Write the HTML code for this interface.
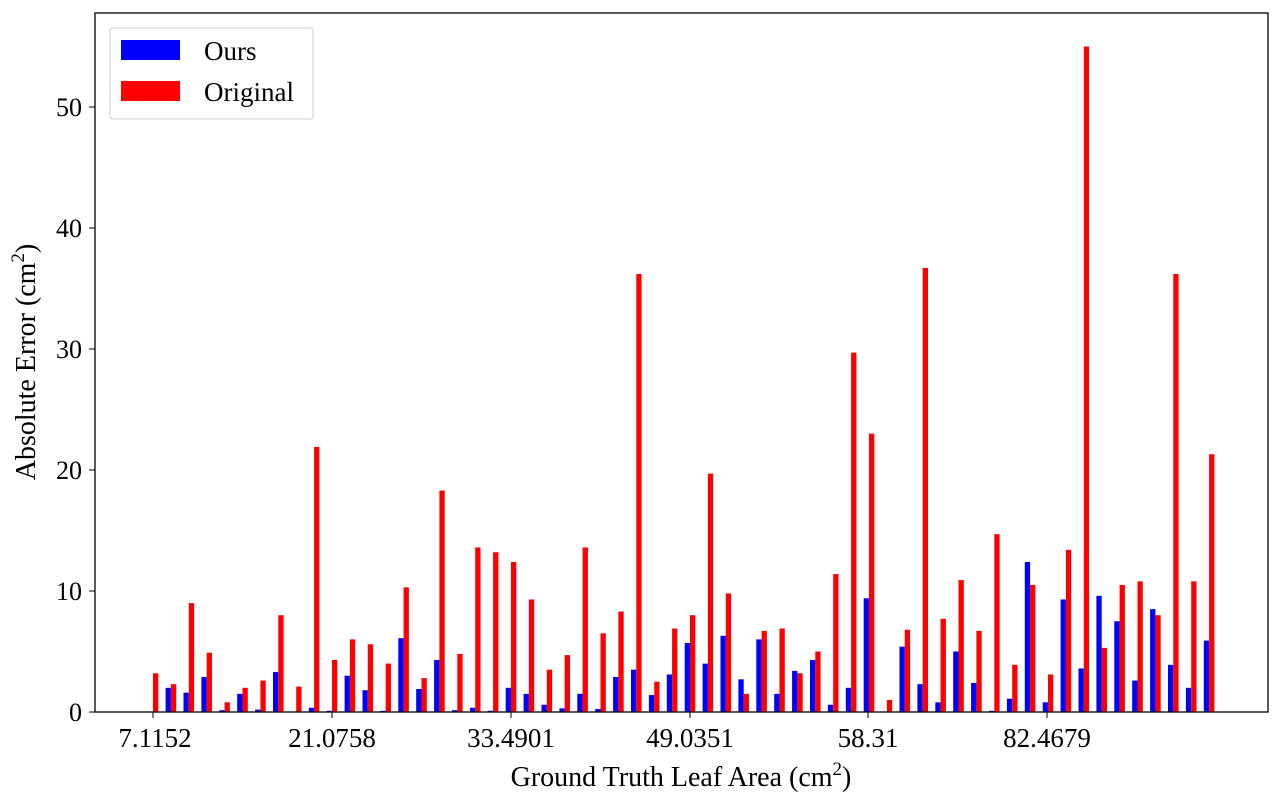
<!DOCTYPE html>
<html><head><meta charset="utf-8"><style>body{margin:0;background:#fff}svg{display:block}</style></head>
<body>
<svg id="s" width="1280" height="803" xmlns="http://www.w3.org/2000/svg" font-family="Liberation Serif, serif">
<g id="bars"></g>
<rect x="95" y="13" width="1173" height="699" fill="none" stroke="#000" stroke-width="1.3"/>
<g font-size="26" text-anchor="end" fill="#000">
<line x1="89" y1="712" x2="95" y2="712" stroke="#000"/><text x="82" y="721">0</text>
<line x1="89" y1="591" x2="95" y2="591" stroke="#000"/><text x="82" y="600">10</text>
<line x1="89" y1="470" x2="95" y2="470" stroke="#000"/><text x="82" y="479">20</text>
<line x1="89" y1="349" x2="95" y2="349" stroke="#000"/><text x="82" y="358">30</text>
<line x1="89" y1="228" x2="95" y2="228" stroke="#000"/><text x="82" y="237">40</text>
<line x1="89" y1="107" x2="95" y2="107" stroke="#000"/><text x="82" y="116">50</text>
</g>
<g font-size="27" text-anchor="middle" fill="#000">
<line x1="153" y1="712" x2="153" y2="718" stroke="#000"/><text x="155" y="747">7.1152</text>
<line x1="332" y1="712" x2="332" y2="718" stroke="#000"/><text x="332" y="747">21.0758</text>
<line x1="511" y1="712" x2="511" y2="718" stroke="#000"/><text x="511" y="747">33.4901</text>
<line x1="690" y1="712" x2="690" y2="718" stroke="#000"/><text x="690" y="747">49.0351</text>
<line x1="868" y1="712" x2="868" y2="718" stroke="#000"/><text x="868" y="747">58.31</text>
<line x1="1047" y1="712" x2="1047" y2="718" stroke="#000"/><text x="1047" y="747">82.4679</text>
</g>
<g font-size="28" text-anchor="middle" fill="#000">
<text x="681" y="786">Ground Truth Leaf Area (cm<tspan font-size="19" dy="-11">2</tspan><tspan dy="11">)</tspan></text>
<text transform="translate(35,362) rotate(-90)">Absolute Error (cm<tspan font-size="19" dy="-11">2</tspan><tspan dy="11">)</tspan></text>
</g>
<rect x="110" y="28" width="203" height="91" rx="3" fill="#fff" fill-opacity="0.8" stroke="#ccc"/>
<rect x="121" y="40" width="59" height="20" fill="#0000ff"/>
<rect x="121" y="81" width="59" height="20" fill="#ff0000"/>
<g font-size="27" fill="#000"><text x="204" y="60">Ours</text><text x="204" y="101">Original</text></g>
</svg>
<script>
var d=[[0,3.2],[2,2.3],[1.6,9],[2.9,4.9],[.15,.8],[1.5,2],[.2,2.6],[3.3,8],[0,2.1],[.35,21.9],[.1,4.3],[3,6],[1.8,5.6],[.1,4],[6.1,10.3],[1.9,2.8],[4.3,18.3],[.15,4.8],[.35,13.6],[.1,13.2],[2,12.4],[1.5,9.3],[.6,3.5],[.3,4.7],[1.5,13.6],[.25,6.5],[2.9,8.3],[3.5,36.2],[1.4,2.5],[3.1,6.9],[5.7,8],[4,19.7],[6.3,9.8],[2.7,1.5],[6,6.7],[1.5,6.9],[3.4,3.2],[4.3,5],[.6,11.4],[2,29.7],[9.4,23],[0,1],[5.4,6.8],[2.3,36.7],[.8,7.7],[5,10.9],[2.4,6.7],[.1,14.7],[1.1,3.9],[12.4,10.5],[.8,3.1],[9.3,13.4],[3.6,55],[9.6,5.3],[7.5,10.5],[2.6,10.8],[8.5,8],[3.9,36.2],[2,10.8],[5.9,21.3]];
var g=document.getElementById('bars'),h='';
d.forEach(function(p,i){var c=153+i*17.9;var hb=p[0]*12.1,hr=p[1]*12.1;
h+='<rect x="'+(c-5.3)+'" y="'+(712-hb)+'" width="5.3" height="'+hb+'" fill="#0000ff"/>';
h+='<rect x="'+c+'" y="'+(712-hr)+'" width="5.3" height="'+hr+'" fill="#ff0000"/>';});
g.innerHTML=h;
</script>
</body></html>
